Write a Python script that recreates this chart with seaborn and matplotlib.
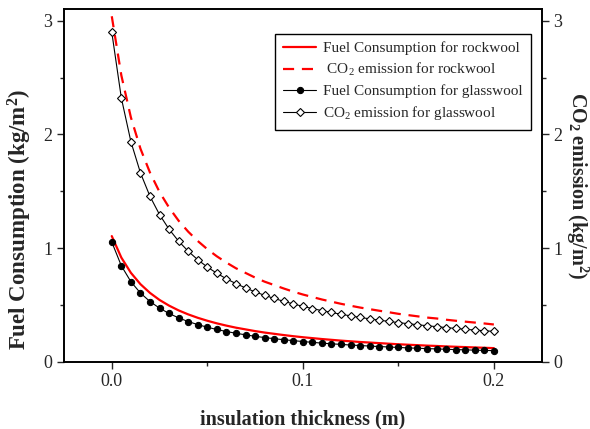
import matplotlib
matplotlib.use("Agg")
import matplotlib.pyplot as plt
import pandas as pd
import seaborn as sns
from matplotlib.ticker import MultipleLocator

# insulation thickness (m)
thickness = [0.000, 0.005, 0.010, 0.015, 0.020, 0.025, 0.030, 0.035, 0.040, 0.045,
             0.050, 0.055, 0.060, 0.065, 0.070, 0.075, 0.080, 0.085, 0.090, 0.095,
             0.100, 0.105, 0.110, 0.115, 0.120, 0.125, 0.130, 0.135, 0.140, 0.145,
             0.150, 0.155, 0.160, 0.165, 0.170, 0.175, 0.180, 0.185, 0.190, 0.195,
             0.200]

fuel_rockwool = [1.105, 0.916, 0.782, 0.682, 0.605, 0.543, 0.493, 0.451, 0.416, 0.386,
                 0.360, 0.337, 0.317, 0.299, 0.284, 0.269, 0.256, 0.245, 0.234, 0.224,
                 0.215, 0.207, 0.199, 0.192, 0.185, 0.179, 0.173, 0.168, 0.163, 0.158,
                 0.153, 0.149, 0.145, 0.141, 0.138, 0.134, 0.131, 0.128, 0.125, 0.122,
                 0.119]

co2_rockwool = [3.040, 2.520, 2.150, 1.875, 1.664, 1.493, 1.356, 1.240, 1.144, 1.062,
                0.990, 0.927, 0.872, 0.822, 0.781, 0.740, 0.704, 0.674, 0.644, 0.616,
                0.591, 0.569, 0.547, 0.528, 0.509, 0.492, 0.476, 0.462, 0.448, 0.435,
                0.421, 0.410, 0.399, 0.388, 0.380, 0.369, 0.360, 0.352, 0.344, 0.336,
                0.327]

fuel_glasswool = [1.053, 0.844, 0.704, 0.604, 0.529, 0.471, 0.424, 0.385, 0.353, 0.326,
                  0.303, 0.283, 0.265, 0.250, 0.236, 0.223, 0.212, 0.202, 0.193, 0.185,
                  0.177, 0.170, 0.163, 0.157, 0.152, 0.146, 0.142, 0.137, 0.133, 0.129,
                  0.125, 0.121, 0.118, 0.115, 0.112, 0.109, 0.106, 0.104, 0.101, 0.099,
                  0.097]

co2_glasswool = [2.900, 2.321, 1.937, 1.662, 1.455, 1.294, 1.165, 1.060, 0.972, 0.897,
                 0.833, 0.778, 0.729, 0.687, 0.649, 0.614, 0.584, 0.556, 0.531, 0.508,
                 0.487, 0.467, 0.449, 0.433, 0.417, 0.403, 0.389, 0.377, 0.365, 0.354,
                 0.344, 0.334, 0.325, 0.316, 0.308, 0.300, 0.292, 0.285, 0.278, 0.272,
                 0.266]

sns.set_style("ticks")
plt.rcParams["font.family"] = ["Liberation Serif", "DejaVu Serif"]
plt.rcParams["mathtext.default"] = "regular"

df = pd.DataFrame({
    "thickness": thickness,
    "fuel_rockwool": fuel_rockwool,
    "co2_rockwool": co2_rockwool,
    "fuel_glasswool": fuel_glasswool,
    "co2_glasswool": co2_glasswool,
})

fig = plt.figure(figsize=(5.9, 4.29), dpi=100)
ax = fig.add_axes([0.1085, 0.157, 0.8095, 0.821])

sns.lineplot(data=df, x="thickness", y="fuel_rockwool", ax=ax, color="red", lw=1.6,
             label="Fuel Consumption for rockwool")
sns.lineplot(data=df, x="thickness", y="co2_rockwool", ax=ax, color="red", lw=1.6,
             linestyle=(0, (5, 3.5)), label=" CO$_2$ emission for rockwool")
sns.lineplot(data=df, x="thickness", y="fuel_glasswool", ax=ax, color="black", lw=0.8,
             marker="o", markersize=4.5, markerfacecolor="black", markeredgecolor="black",
             label="Fuel Consumption for glasswool")
sns.lineplot(data=df, x="thickness", y="co2_glasswool", ax=ax, color="black", lw=0.8,
             marker="D", markersize=3.8, markerfacecolor="white", markeredgecolor="black",
             markeredgewidth=0.8, label="CO$_2$ emission for glasswool")

ax.set_xlim(-0.025, 0.225)
ax.set_ylim(0, 3.1)
ax.xaxis.set_major_locator(MultipleLocator(0.1))
ax.xaxis.set_minor_locator(MultipleLocator(0.05))
ax.yaxis.set_major_locator(MultipleLocator(1))
ax.yaxis.set_minor_locator(MultipleLocator(0.5))
ax.set_xticklabels([f"{t:.1f}" for t in ax.get_xticks()])
ax.tick_params(which="major", direction="out", length=5, width=1, labelsize=13)
ax.tick_params(which="minor", direction="out", length=2.7, width=1)
for s in ax.spines.values():
    s.set_linewidth(1.2)
    s.set_color("black")

ax.set_xlabel("insulation thickness (m)", fontsize=14.5, fontweight="bold", labelpad=14)
ax.set_ylabel("Fuel Consumption (kg/m$^2$)", fontsize=16.5, fontweight="bold")
ax.yaxis.set_label_coords(-0.062, 0.405)

ax2 = ax.twinx()
ax2.set_ylim(ax.get_ylim())
ax2.yaxis.set_major_locator(MultipleLocator(1))
ax2.yaxis.set_minor_locator(MultipleLocator(0.5))
ax2.tick_params(which="major", direction="out", length=5, width=1, labelsize=13)
ax2.tick_params(which="minor", direction="out", length=2.7, width=1)
ax2.set_ylabel("CO$_2$ emission (kg/m$^2$)", fontsize=14.5, fontweight="bold",
               rotation=270, labelpad=20)
for s in ax2.spines.values():
    s.set_linewidth(1.2)
    s.set_color("black")

leg = ax.legend(loc="upper right", bbox_to_anchor=(0.993, 0.953), fontsize=11,
                frameon=True, fancybox=False, edgecolor="black", framealpha=1,
                handlelength=2.2, handletextpad=0.45, borderpad=0.5, labelspacing=0.4,
                numpoints=1)
leg.get_frame().set_linewidth(1.0)

fig.savefig("out.png", dpi=100)
